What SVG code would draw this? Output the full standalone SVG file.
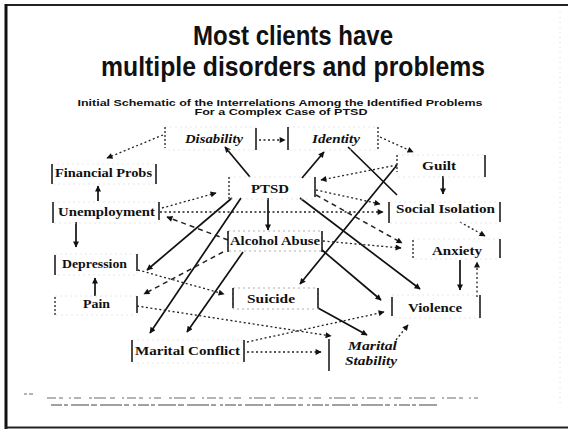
<svg xmlns="http://www.w3.org/2000/svg" width="572" height="430" viewBox="0 0 572 430">
  <defs>
    <marker id="ah" viewBox="0 0 10 10" refX="9" refY="5" markerWidth="9" markerHeight="6" markerUnits="userSpaceOnUse" orient="auto">
      <path d="M0,0 L10,5 L0,10 Z" fill="#111"/>
    </marker>
    <style>
      .title { font-family: "Liberation Sans", Arial, sans-serif; font-weight: bold; font-size: 27px; fill: #111; }
      .sub { font-family: "Liberation Sans", Arial, sans-serif; font-weight: bold; font-size: 9px; fill: #111; }
      .lbl { font-family: "Liberation Serif", "Times New Roman", serif; font-weight: bold; font-size: 13px; fill: #111; }
      .it { font-style: italic; }
      .br { stroke: #111; stroke-width: 1.5; fill: none; }
      .brd { stroke: #222; stroke-width: 1.3; fill: none; stroke-dasharray: 2 2; }
      .edge { stroke: #e2e2e2; stroke-width: 0.8; fill: none; stroke-dasharray: 2 3; }
      .solid { stroke: #111; stroke-width: 1.7; fill: none; marker-end: url(#ah); }
      .plain { stroke: #111; stroke-width: 1.7; fill: none; }
      .dot { stroke: #222; stroke-width: 1.3; fill: none; stroke-dasharray: 2 2.5; marker-end: url(#ah); }
      .dash { stroke: #222; stroke-width: 1.5; fill: none; stroke-dasharray: 5 4; marker-end: url(#ah); }
      .fn { stroke: #6a6a6a; stroke-width: 1.1; fill: none; }
    </style>
  </defs>

  <!-- slide frame -->
  <rect x="0" y="0" width="572" height="430" fill="#fff"/>
  <line x1="5" y1="5" x2="568" y2="5" stroke="#222" stroke-width="2"/>
  <line x1="6" y1="4" x2="6" y2="429" stroke="#111" stroke-width="3"/>
  <line x1="5" y1="427.5" x2="568" y2="427.5" stroke="#222" stroke-width="2"/>
  <line x1="560" y1="12" x2="560" y2="405" stroke="#d8d8d8" stroke-width="1" stroke-dasharray="1 4"/>

  <!-- headings -->
  <text class="title" x="293" y="45" text-anchor="middle" textLength="200" lengthAdjust="spacingAndGlyphs">Most clients have</text>
  <text class="title" x="293" y="76" text-anchor="middle" textLength="384" lengthAdjust="spacingAndGlyphs">multiple disorders and problems</text>
  <text class="sub" x="280" y="106" text-anchor="middle" textLength="405" lengthAdjust="spacingAndGlyphs">Initial Schematic of the Interrelations Among the Identified Problems</text>
  <text class="sub" x="281" y="115" text-anchor="middle" textLength="173" lengthAdjust="spacingAndGlyphs">For a Complex Case of PTSD</text>

  <!-- connectors -->
  <g id="connectors">
    <!-- solid arrows -->
    <line class="solid" x1="250" y1="177" x2="225" y2="147"/>
    <line class="solid" x1="302" y1="178" x2="324" y2="152"/>
    <line class="solid" x1="98" y1="201" x2="98" y2="186"/>
    <line class="solid" x1="76" y1="222" x2="76" y2="247"/>
    <line class="solid" x1="95" y1="296" x2="95" y2="278"/>
    <line class="solid" x1="268" y1="198" x2="268" y2="230"/>
    <line class="solid" x1="443" y1="176" x2="443" y2="194"/>
    <line class="solid" x1="460" y1="260" x2="460" y2="290"/>
    <line class="solid" x1="232" y1="198" x2="147" y2="270"/>
    <line class="solid" x1="241" y1="198" x2="150" y2="333"/>
    <line class="solid" x1="243" y1="252" x2="187" y2="332"/>
    <line class="solid" x1="397" y1="165" x2="300" y2="284"/>
    <line class="plain" x1="348" y1="147" x2="397" y2="195"/>
    <line class="solid" x1="300" y1="198" x2="420" y2="289"/>
    <line class="solid" x1="322" y1="250" x2="381" y2="300"/>
    <line class="solid" x1="318" y1="308" x2="367" y2="335"/>

    <!-- dotted / dashed arrows -->
    <line class="dot" x1="259" y1="140" x2="285" y2="140"/>
    <line class="dot" x1="380" y1="137" x2="413" y2="152"/>
    <line class="dot" x1="163" y1="135" x2="107" y2="158"/>
    <line class="dot" x1="162" y1="208" x2="216" y2="193"/>
    <line class="dot" x1="397" y1="165" x2="321" y2="180"/>
    <line class="dot" x1="316" y1="190" x2="380" y2="204"/>
    <line class="dot" x1="160" y1="212" x2="383" y2="212"/>
    <line class="dash" x1="228" y1="240" x2="167" y2="217"/>
    <line class="dash" x1="316" y1="195" x2="402" y2="243"/>
    <line class="dot" x1="323" y1="241" x2="401" y2="248"/>
    <line class="dot" x1="460" y1="222" x2="485" y2="236"/>
    <line class="dot" x1="477" y1="297" x2="477" y2="262"/>
    <line class="dash" x1="223" y1="252" x2="144" y2="294"/>
    <line class="dot" x1="138" y1="270" x2="224" y2="294"/>
    <line class="dot" x1="137" y1="306" x2="331" y2="336"/>
    <line class="dot" x1="247" y1="342" x2="384" y2="312"/>
    <line class="dot" x1="247" y1="352" x2="321" y2="352"/>
    <line class="dot" x1="396" y1="340" x2="408" y2="325"/>
  </g>

  <!-- nodes -->
  <g id="disability">
    <rect class="edge" x="165" y="127" width="91" height="23"/>
    <line class="brd" x1="165" y1="127" x2="165" y2="148"/>
    <line class="br" x1="256" y1="128" x2="256" y2="150"/>
    <text class="lbl it" x="185" y="143" textLength="58" lengthAdjust="spacingAndGlyphs">Disability</text>
  </g>
  <g id="identity">
    <rect class="edge" x="288" y="127" width="90" height="23"/>
    <line class="br" x1="288" y1="127" x2="288" y2="150"/>
    <line class="brd" x1="378" y1="127" x2="378" y2="150"/>
    <text class="lbl it" x="312" y="143" textLength="48" lengthAdjust="spacingAndGlyphs">Identity</text>
  </g>
  <g id="guilt">
    <rect class="edge" x="397" y="155" width="88" height="22"/>
    <line class="brd" x1="397" y1="155" x2="397" y2="172"/>
    <line class="br" x1="485" y1="155" x2="485" y2="177"/>
    <text class="lbl" x="422" y="170" textLength="34" lengthAdjust="spacingAndGlyphs">Guilt</text>
  </g>
  <g id="financial-probs">
    <rect class="edge" x="52" y="164" width="104" height="20"/>
    <line class="br" x1="52" y1="164" x2="52" y2="184"/>
    <line class="br" x1="156" y1="164" x2="156" y2="184"/>
    <text class="lbl" x="55" y="177" textLength="97" lengthAdjust="spacingAndGlyphs">Financial Probs</text>
  </g>
  <g id="ptsd">
    <rect class="edge" x="229" y="177" width="86" height="22"/>
    <line class="brd" x1="229" y1="177" x2="229" y2="199"/>
    <line class="br" x1="315" y1="177" x2="315" y2="197"/>
    <text class="lbl" x="251" y="193" textLength="38" lengthAdjust="spacingAndGlyphs">PTSD</text>
  </g>
  <g id="unemployment">
    <rect class="edge" x="53" y="202" width="106" height="21"/>
    <line class="br" x1="53" y1="202" x2="53" y2="223"/>
    <line class="br" x1="159" y1="202" x2="159" y2="220"/>
    <text class="lbl" x="58" y="216" textLength="97" lengthAdjust="spacingAndGlyphs">Unemployment</text>
  </g>
  <g id="social-isolation">
    <rect class="edge" x="389" y="202" width="111" height="21"/>
    <line class="br" x1="389" y1="202" x2="389" y2="223"/>
    <line class="br" x1="500" y1="202" x2="500" y2="222"/>
    <text class="lbl" x="396" y="213" textLength="99" lengthAdjust="spacingAndGlyphs">Social Isolation</text>
  </g>
  <g id="alcohol-abuse">
    <rect class="edge" x="228" y="231" width="94" height="20" style="stroke:#9a9a9a"/>
    <line class="br" x1="228" y1="231" x2="228" y2="252"/>
    <line class="br" x1="322" y1="231" x2="322" y2="252"/>
    <text class="lbl" x="230" y="245" textLength="90" lengthAdjust="spacingAndGlyphs">Alcohol Abuse</text>
  </g>
  <g id="anxiety">
    <rect class="edge" x="413" y="239" width="87" height="20"/>
    <line class="brd" x1="413" y1="240" x2="413" y2="258"/>
    <line class="br" x1="500" y1="239" x2="500" y2="258"/>
    <text class="lbl" x="432" y="255" textLength="50" lengthAdjust="spacingAndGlyphs">Anxiety</text>
  </g>
  <g id="depression">
    <rect class="edge" x="55" y="254" width="82" height="21"/>
    <line class="br" x1="55" y1="255" x2="55" y2="275"/>
    <line class="br" x1="137" y1="254" x2="137" y2="271"/>
    <text class="lbl" x="62" y="268" textLength="65" lengthAdjust="spacingAndGlyphs">Depression</text>
  </g>
  <g id="suicide">
    <rect class="edge" x="233" y="288" width="85" height="21" style="stroke:#9a9a9a"/>
    <line class="br" x1="233" y1="288" x2="233" y2="308"/>
    <line class="br" x1="318" y1="288" x2="318" y2="308"/>
    <text class="lbl" x="247" y="303" textLength="48" lengthAdjust="spacingAndGlyphs">Suicide</text>
  </g>
  <g id="pain">
    <rect class="edge" x="55" y="296" width="82" height="19"/>
    <line class="brd" x1="55" y1="297" x2="55" y2="315"/>
    <line class="br" x1="137" y1="296" x2="137" y2="313"/>
    <text class="lbl" x="83" y="308" textLength="27" lengthAdjust="spacingAndGlyphs">Pain</text>
  </g>
  <g id="violence">
    <rect class="edge" x="392" y="295" width="88" height="23"/>
    <line class="br" x1="392" y1="297" x2="392" y2="316"/>
    <line class="br" x1="480" y1="295" x2="480" y2="318"/>
    <text class="lbl" x="408" y="312" textLength="54" lengthAdjust="spacingAndGlyphs">Violence</text>
  </g>
  <g id="marital-conflict">
    <rect class="edge" x="132" y="340" width="112" height="23"/>
    <line class="br" x1="132" y1="340" x2="132" y2="362"/>
    <line class="br" x1="244" y1="340" x2="244" y2="362"/>
    <text class="lbl" x="135" y="355" textLength="105" lengthAdjust="spacingAndGlyphs">Marital Conflict</text>
  </g>
  <g id="marital-stability">
    <line class="br" x1="329" y1="339" x2="329" y2="371"/>
    <text class="lbl it" x="348" y="350" textLength="49" lengthAdjust="spacingAndGlyphs">Marital</text>
    <text class="lbl it" x="345" y="365" textLength="52" lengthAdjust="spacingAndGlyphs">Stability</text>
  </g>

  <!-- source note (illegible print, shown as faint rules) -->
  <g id="source-note">
    <line class="fn" x1="24" y1="394" x2="35" y2="394" stroke-dasharray="3 2 4 2"/>
    <line class="fn" x1="47" y1="398" x2="478" y2="398" stroke-dasharray="9 3 4 6 2 3 7 8 3 2 12 4 5 7 2 3"/>
    <line class="fn" x1="51" y1="405" x2="438" y2="405" stroke-dasharray="11 2 4 3 18 2 6 3 22 2 5 4 3 2" style="stroke:#444"/>
  </g>
</svg>
